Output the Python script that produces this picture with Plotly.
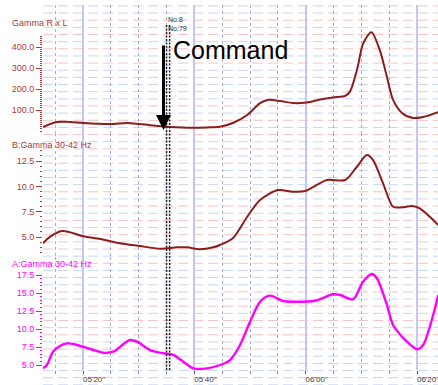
import numpy as np
import plotly.graph_objects as go

# ---- data (time in seconds, values per channel) ----
t_rxl = [312.8, 315.3, 317.7, 320.0, 324.9, 327.9, 330.2, 334.4, 338.7, 342.3,
         344.6, 346.9, 349.5, 351.8, 353.2, 355.4, 357.7, 360.2, 362.6, 364.9,
         367.1, 368.0, 369.3, 370.3, 371.8, 373.3, 374.6, 375.7, 377.3, 379.3,
         381.1, 383.8]
v_rxl = [19, 43, 43, 38, 33, 38, 33, 22, 16, 17,
         20, 38, 76, 133, 148, 143, 133, 136, 150, 160,
         167, 190, 300, 415, 470, 386, 257, 148, 86, 62,
         67, 90]

t_b = [312.8, 314.1, 316.2, 317.7, 319.8, 323.1, 326.6, 330.2, 333.8, 336.9,
       338.7, 341.0, 343.4, 344.6, 346.9, 349.5, 351.8, 355.0, 357.7, 359.9,
       363.8, 367.1, 369.2, 371.0, 372.1, 373.9, 375.7, 377.3, 379.1, 380.5,
       382.3, 383.8]
v_b = [4.38, 5.03, 5.59, 5.46, 5.10, 4.80, 4.38, 4.11, 3.85, 3.98,
       3.98, 3.79, 3.98, 4.21, 4.87, 7.0, 8.65, 9.64, 9.47, 9.54,
       10.63, 10.63, 11.94, 13.09, 12.6, 10.3, 7.99, 7.93, 8.06, 7.83,
       7.0, 6.18]

t_a = [312.8, 313.5, 314.6, 315.9, 317.1, 318.9, 321.3, 323.6, 325.4, 327.2,
       328.4, 329.7, 332.0, 334.4, 336.2, 338.0, 339.8, 342.3, 344.6, 346.4,
       348.2, 350.0, 351.8, 353.6, 355.9, 357.7, 361.7, 364.9, 366.2, 368.5,
       370.3, 371.9, 372.8, 374.6, 375.7, 378.2, 380.0, 381.1, 382.9, 383.8]
v_a = [4.54, 5.0, 6.85, 7.68, 8.01, 7.78, 7.22, 6.71, 6.85, 7.88,
       8.47, 8.24, 7.08, 6.63, 6.39, 5.46, 4.54, 4.54, 5.0, 5.69,
       7.78, 11.01, 13.79, 14.63, 13.89, 13.79, 13.93, 14.82, 14.72, 14.13,
       16.57, 17.64, 17.04, 13.33, 10.56, 8.24, 7.18, 7.78, 11.94, 14.72]

x_tickvals = [320, 340, 360, 380]
x_ticktext = ["05'20\"", "05'40\"", "06'00\"", "06'20\""]

marker_times = [335.0, 335.55]
marker_labels = ["No:8", "No:79"]
command_time = 334.45

W, H = 438, 385
LEFT = 43


def py(p):
    """pixel row -> paper y"""
    return 1 - p / H


DARK_RED = "#8e1c1c"
LABEL_RED = "#ac3a3a"
MAGENTA = "#ff00ff"
FONT = "Liberation Sans, Arial, sans-serif"

fig = go.Figure()
fig.add_trace(go.Scatter(x=t_rxl, y=v_rxl, yaxis="y", mode="lines",
                         line=dict(color=DARK_RED, width=2, shape="spline", smoothing=0.8),
                         hoverinfo="skip"))
fig.add_trace(go.Scatter(x=t_b, y=v_b, yaxis="y2", mode="lines",
                         line=dict(color=DARK_RED, width=2, shape="spline", smoothing=0.8),
                         hoverinfo="skip"))
fig.add_trace(go.Scatter(x=t_a, y=v_a, yaxis="y3", mode="lines",
                         line=dict(color=MAGENTA, width=2.4, shape="spline", smoothing=0.8),
                         hoverinfo="skip"))

# background horizontal dashed rules, alternating blue / pink
shapes = []
period = 14.3
k = 0
ypix = 5.9
while ypix < H:
    col = "#f5c4c4" if k % 2 == 0 else "#c9d5f3"
    shapes.append(dict(type="line", xref="paper", yref="paper", layer="below",
                       x0=LEFT / W, x1=1, y0=py(ypix), y1=py(ypix),
                       line=dict(color=col, width=1, dash="10px,5px")))
    ypix += period / 2
    k += 1

# event markers (double dotted vertical line)
for mt in marker_times:
    shapes.append(dict(type="line", xref="x", yref="paper", layer="above",
                       x0=mt, x1=mt, y0=py(25), y1=py(370),
                       line=dict(color="#222222", width=1.5, dash="2px,1.5px")))

fig.update_layout(shapes=shapes)

tickfont_red = dict(family=FONT, size=9, color=LABEL_RED)
tickfont_mag = dict(family=FONT, size=9, color=MAGENTA)

common_y = dict(showgrid=False, zeroline=False, showline=False, ticks="outside",
                ticklen=6, tickwidth=1, fixedrange=True)

fig.update_layout(
    width=W, height=H, autosize=False,
    margin=dict(l=0, r=0, t=0, b=0, pad=0),
    paper_bgcolor="white", plot_bgcolor="rgba(0,0,0,0)",
    showlegend=False,
    xaxis=dict(domain=[LEFT / W, 1], range=[312.8, 383.77], anchor="y3",
               tickmode="array", tickvals=x_tickvals, ticktext=x_ticktext,
               showgrid=True, gridcolor="#c6c6f2", gridwidth=1.5,
               zeroline=False, showline=False,
               ticks="outside", ticklen=3, tickcolor="#555555",
               tickfont=dict(family=FONT, size=8, color="#3a3a3a"),
               ticklabelshift=11, ticklabelstandoff=-2, ticklabeloverflow="allow",
               minor=dict(tickmode="linear", tick0=320, dtick=5, showgrid=True,
                          gridcolor="#a9a9e2", griddash="dot", gridwidth=1,
                          ticks="outside", ticklen=3, tickcolor="#8888cc")),
    yaxis=dict(domain=[py(133), py(5)], range=[-9.52, 600], anchor="x",
               tickvals=[100, 200, 300, 400], tickformat=".1f",
               tickfont=tickfont_red, tickcolor=LABEL_RED,
               minor=dict(tickmode="array", tickvals=list(np.arange(0, 460, 10)),
                          ticks="outside", ticklen=2, tickcolor=LABEL_RED),
               **common_y),
    yaxis2=dict(domain=[py(257), py(133)], range=[3.026, 15.27], anchor="x",
                tickvals=[5.0, 7.5, 10.0, 12.5], tickformat=".1f",
                tickfont=tickfont_red, tickcolor=LABEL_RED,
                minor=dict(tickmode="array", tickvals=list(np.arange(3.5, 13.6, 0.5)),
                           ticks="outside", ticklen=2, tickcolor=LABEL_RED),
                **common_y),
    yaxis3=dict(domain=[py(370), py(257)], range=[4.306, 20.0], anchor="x",
                tickvals=[5.0, 7.5, 10.0, 12.5, 15.0, 17.5], tickformat=".1f",
                tickfont=tickfont_mag, tickcolor=MAGENTA,
                minor=dict(tickmode="array", tickvals=list(np.arange(5.0, 17.6, 0.5)),
                           ticks="outside", ticklen=2, tickcolor=MAGENTA),
                **common_y),
)

annotations = [
    dict(text="Gamma R x L", x=10 / W, y=py(23), font=dict(family=FONT, size=9, color=LABEL_RED)),
    dict(text="B:Gamma 30-42 Hz", x=10 / W, y=py(145), font=dict(family=FONT, size=9, color=LABEL_RED)),
    dict(text="A:Gamma 30-42 Hz", x=10 / W, y=py(264), font=dict(family=FONT, size=9, color=MAGENTA)),
    dict(text="Command", x=171 / W, y=py(50), font=dict(family=FONT, size=25, color="black")),
]
for a in annotations:
    a.update(xref="paper", yref="paper", xanchor="left", yanchor="middle", showarrow=False)
    fig.add_annotation(**a)

# marker labels
for lbl, row in zip(marker_labels, [19, 28]):
    fig.add_annotation(text=lbl, x=marker_times[0], xref="x", y=py(row), yref="paper",
                       xanchor="left", yanchor="middle", showarrow=False, xshift=-1,
                       font=dict(family=FONT, size=7, color="#333333"))

# command arrow
fig.add_annotation(text="", x=command_time, xref="x", y=py(130), yref="paper",
                   showarrow=True, ax=0, ay=-86, arrowhead=2, arrowsize=1,
                   arrowwidth=3, arrowcolor="black")

fig.write_html("out.html")
